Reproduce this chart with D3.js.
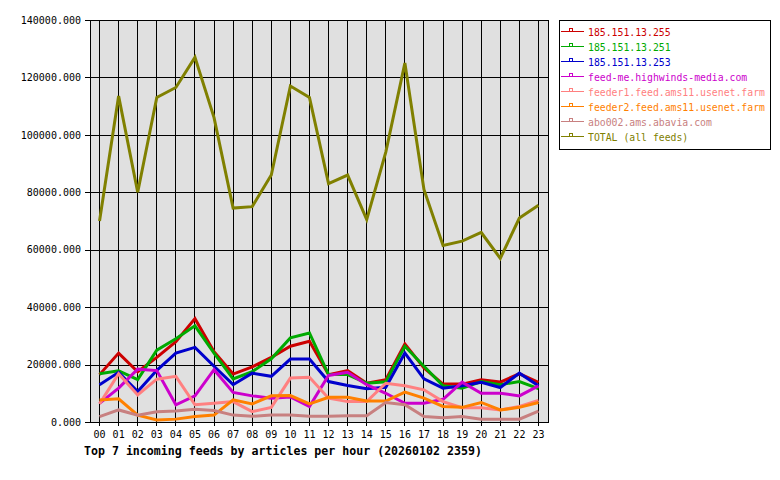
<!DOCTYPE html>
<html>
<head>
<meta charset="utf-8">
<script src="https://cdn.jsdelivr.net/npm/d3@7"></script>
<style>
    body { margin: 0; background: #fff; }
    text { font-family: "DejaVu Sans Mono", monospace; }
</style>
</head>
<body>
<svg id="chart" width="780" height="480"></svg>
<script>
// hours on the x axis
const hours = ['00', '01', '02', '03', '04', '05', '06', '07', '08', '09', '10', '11',
    '12', '13', '14', '15', '16', '17', '18', '19', '20', '21', '22', '23'];
const yTicks = [0, 20000, 40000, 60000, 80000, 100000, 120000, 140000];

// feed names and colours, in legend order
const feedNames = ['185.151.13.255', '185.151.13.251', '185.151.13.253', 'feed-me.highwinds-media.com',
    'feeder1.feed.ams11.usenet.farm', 'feeder2.feed.ams11.usenet.farm', 'abo002.ams.abavia.com', 'TOTAL (all feeds)'];
const feedColors = ['#cc0000', '#00aa00', '#0000cc', '#cc00cc', '#ff8080', '#ff8000', '#c88080', '#808000'];

// articles per hour
const feed255 = [16500, 24000, 17500, 22500, 28000, 36000, 24500, 16700, 19200, 22500, 26400, 28100,
    16500, 17900, 13500, 14700, 27200, 18800, 13200, 13200, 14700, 13900, 16800, 13800];
const feed251 = [16800, 17800, 14800, 25000, 29000, 33500, 24000, 15000, 17500, 22000, 29300, 31000,
    16500, 16500, 13500, 14000, 26400, 19400, 12600, 11800, 14100, 13000, 14100, 11600];
const feed253 = [13000, 17300, 10600, 18000, 24000, 26000, 19400, 13000, 17000, 15900, 21900, 21900,
    14100, 12700, 11600, 12100, 24000, 15000, 11800, 12600, 13800, 12000, 17000, 12600];
const feedMe = [6500, 11800, 18400, 17900, 6000, 9100, 18200, 10300, 9100, 8300, 8700, 5400,
    16200, 17300, 13000, 10000, 6500, 6500, 7900, 13900, 10000, 10000, 9100, 12600];
const feeder1 = [6300, 16800, 9400, 14900, 15900, 6000, 6500, 7100, 3600, 5100, 15300, 15600,
    8300, 7100, 7100, 13500, 12600, 11200, 7100, 5000, 5000, 4200, 5400, 7500];
const feeder2 = [7700, 8100, 2400, 700, 1000, 1900, 2400, 7700, 6300, 9100, 9200, 6300,
    8600, 8600, 7300, 7300, 10400, 8300, 5400, 5100, 6800, 4200, 5100, 6800];
const abo002 = [1900, 4200, 2400, 3600, 3800, 4400, 4000, 2400, 2000, 2400, 2400, 2000,
    2000, 2200, 2200, 6800, 6000, 1900, 1500, 1900, 1000, 1000, 1000, 3800];
const total = [70000, 113500, 80000, 113000, 116500, 127000, 106000, 74500, 75000, 86000, 117000, 113000,
    83000, 86000, 70500, 94000, 125000, 81000, 61500, 63000, 66000, 57000, 71000, 75500];

const series = [feed255, feed251, feed253, feedMe, feeder1, feeder2, abo002, total];

const svg = d3.select('#chart');
const plotL = 90, plotR = 548, plotT = 20, plotB = 422;

let x = d3.scaleBand().domain(hours).range([plotL, plotR]);
let y = d3.scaleLinear().domain([0, 140000]).range([plotB, plotT]);
let cx = d => x(d) + x.bandwidth() / 2;

// plot background
svg.append('rect').attr('x', plotL).attr('y', plotT).attr('width', plotR - plotL).attr('height', plotB - plotT)
    .attr('fill', '#e0e0e0');

// y grid + labels
let yAxis = svg.append('g').attr('transform', 'translate(' + plotR + ',0)')
    .call(d3.axisLeft(y).tickValues(yTicks).tickFormat(d3.format('.3f')).tickSize(plotR - plotL + 5).tickPadding(4));
yAxis.select('.domain').remove();
yAxis.selectAll('line').attr('stroke', '#000').attr('shape-rendering', 'crispEdges');
yAxis.selectAll('text').attr('font-size', 10).attr('fill', '#000').style('font-family', '"DejaVu Sans Mono", monospace');

// x grid + labels
let xAxis = svg.append('g').attr('transform', 'translate(0,' + plotT + ')')
    .call(d3.axisBottom(x).tickSize(plotB - plotT + 4).tickPadding(5));
xAxis.select('.domain').remove();
xAxis.selectAll('line').attr('stroke', '#000').attr('shape-rendering', 'crispEdges');
xAxis.selectAll('text').attr('font-size', 10).attr('fill', '#000').style('font-family', '"DejaVu Sans Mono", monospace');

// frame
svg.append('rect').attr('x', plotL).attr('y', plotT).attr('width', plotR - plotL).attr('height', plotB - plotT)
    .attr('fill', 'none').attr('stroke', '#000').attr('shape-rendering', 'crispEdges');

// series lines
let line = d3.line().x((d, i) => cx(hours[i])).y(d => y(d));
svg.append('g').selectAll('path').data(series).enter().append('path')
    .attr('d', d => line(d))
    .attr('fill', 'none')
    .attr('stroke', (d, i) => feedColors[i])
    .attr('stroke-width', 3);

// title
svg.append('text').attr('x', 84).attr('y', 455)
    .attr('font-size', 11.6).attr('font-weight', 'bold')
    .text('Top 7 incoming feeds by articles per hour (20260102 2359)');

// legend
svg.append('rect').attr('x', 559.5).attr('y', 20.5).attr('width', 211).attr('height', 129)
    .attr('fill', '#fff').attr('stroke', '#000');
let items = svg.append('g').selectAll('g').data(feedNames).enter().append('g')
    .attr('transform', (d, i) => 'translate(0,' + (32 + i * 15) + ')');
items.append('line').attr('x1', 561).attr('x2', 584).attr('y1', -0.5).attr('y2', -0.5)
    .attr('stroke', (d, i) => feedColors[i]);
items.append('rect').attr('x', 569.5).attr('y', -3.5).attr('width', 3).attr('height', 3)
    .attr('fill', 'none').attr('stroke', (d, i) => feedColors[i]);
items.append('text').attr('x', 588).attr('y', 4).attr('font-size', 9.8)
    .attr('fill', (d, i) => feedColors[i]).text(d => d);
</script>
</body>
</html>
